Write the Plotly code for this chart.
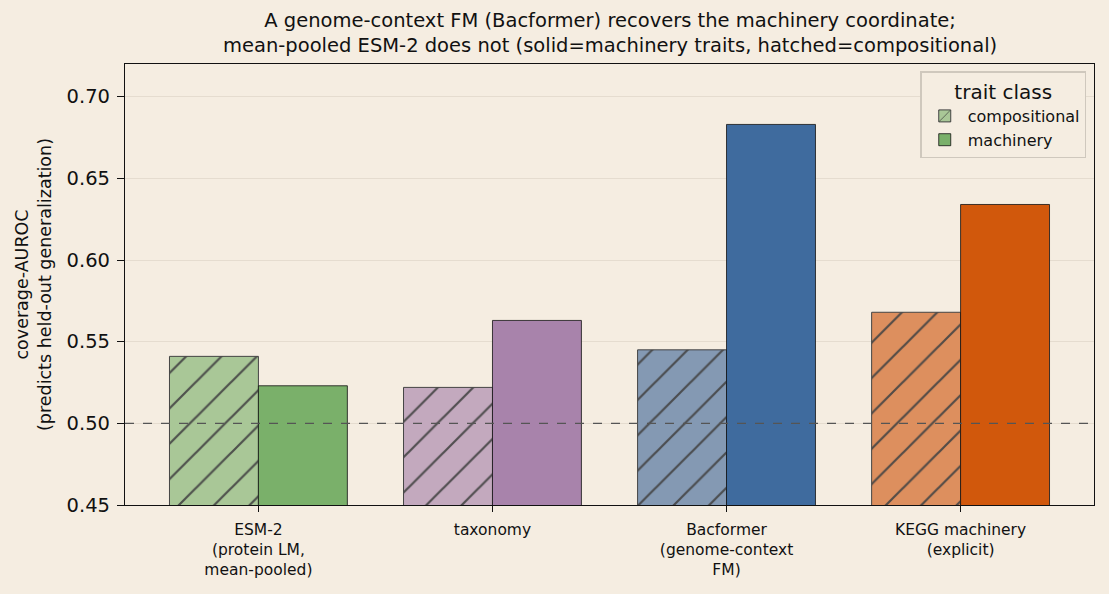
import plotly.graph_objects as go

categories = ["ESM-2<br>(protein LM,<br>mean-pooled)", "taxonomy", "Bacformer<br>(genome-context<br>FM)", "KEGG machinery<br>(explicit)"]
compositional = [0.541, 0.522, 0.545, 0.568]
machinery = [0.523, 0.563, 0.683, 0.634]
solid_colors = ["#7ab06a", "#a883ab", "#3f6b9e", "#d1580c"]
light_colors = ["#a9c797", "#c3a9be", "#8499b3", "#dd8f5e"]
title_text = ("A genome-context FM (Bacformer) recovers the machinery coordinate;<br>"
              "mean-pooled ESM-2 does not (solid=machinery traits, hatched=compositional)")

bg = "#f5ede1"
fig = go.Figure()
fig.add_trace(go.Bar(
    x=categories, y=compositional, name="compositional",
    marker=dict(color=light_colors, line=dict(color="#444444", width=1),
                pattern=dict(shape="/", fgcolor="#333333", fgopacity=0.9, size=25, solidity=0.09, fillmode="overlay")),
))
fig.add_trace(go.Bar(
    x=categories, y=machinery, name="machinery",
    marker=dict(color=solid_colors, line=dict(color="#111111", width=0.8)),
))
fig.add_hline(y=0.5, line=dict(color="#555555", width=1.2, dash="dash"))

fig.add_annotation(text=title_text, xref="paper", yref="paper", x=0.5, y=1,
                   xanchor="center", yanchor="bottom", yshift=5, showarrow=False,
                   font=dict(size=19.5, color="#111111"), align="center")

fig.update_layout(
    width=1109, height=594,
    paper_bgcolor=bg, plot_bgcolor=bg,
    font=dict(family="DejaVu Sans", size=15, color="#111111"),
    margin=dict(l=125, r=15, t=64, b=89),
    barmode="group", bargap=0.24, bargroupgap=0,
    legend=dict(title=dict(text="trait class", font=dict(size=20), side="top center"),
                x=0.992, xanchor="right", y=0.983, yanchor="top",
                bgcolor=bg, bordercolor="#cfc8bd", borderwidth=1.5, font=dict(size=16),
                tracegroupgap=2, itemwidth=36),
    showlegend=True,
)
fig.update_xaxes(range=[-0.57, 3.57], showline=True, linecolor="#111111", linewidth=1.2, mirror=True,
                 ticks="outside", ticklen=6, tickcolor="#111111", tickfont=dict(size=15.5), showgrid=False,
                 ticklabelstandoff=4)
fig.update_yaxes(range=[0.45, 0.72], tickvals=[0.45, 0.5, 0.55, 0.6, 0.65, 0.7], ticktext=["0.45", "0.50", "0.55", "0.60", "0.65", "0.70"],
                 showline=True, linecolor="#111111", linewidth=1.2, mirror=True,
                 ticks="outside", ticklen=7, tickcolor="#111111", tickfont=dict(size=19.5),
                 showgrid=True, gridcolor="#e5dccf", gridwidth=1, zeroline=False, ticklabelstandoff=3,
                 title=dict(text="coverage-AUROC<br>(predicts held-out generalization)", font=dict(size=17.5), standoff=10))

fig.write_html("out.html")
